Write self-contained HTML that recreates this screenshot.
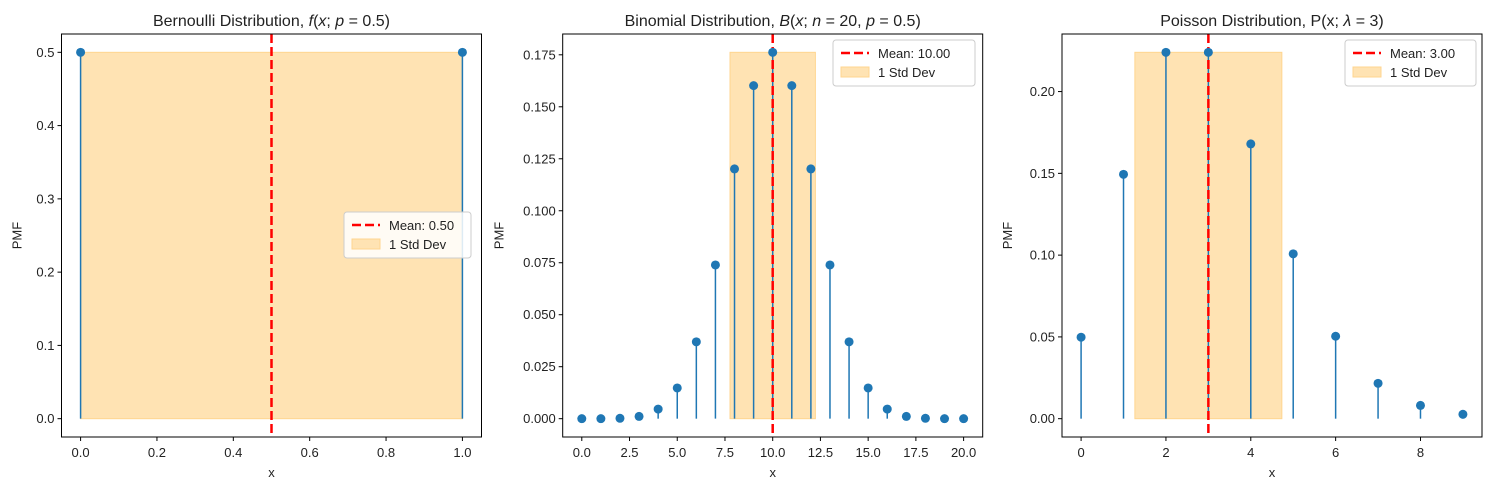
<!DOCTYPE html>
<html><head><meta charset="utf-8"><style>
body{margin:0;background:#fff;}
svg text{font-family:"Liberation Sans","DejaVu Sans",sans-serif;fill:#222;}
</style></head><body>
<svg id="fig" width="1489" height="490" viewBox="0 0 1489 490" xmlns="http://www.w3.org/2000/svg"></svg>
<script>
const bernX=[0,1];
const bernY=[0.5,0.5];
const binomX=[0,1,2,3,4,5,6,7,8,9,10,11,12,13,14,15,16,17,18,19,20];
const binomY=[0.000001,0.000019,0.000181,0.001087,0.004621,0.014786,0.036964,0.073929,0.120134,0.160179,0.176197,0.160179,0.120134,0.073929,0.036964,0.014786,0.004621,0.001087,0.000181,0.000019,0.000001];
const poisX=[0,1,2,3,4,5,6,7,8,9];
const poisY=[0.0498,0.1494,0.2240,0.2240,0.1680,0.1008,0.0504,0.0216,0.0081,0.0027];
const means=[0.5,10,3];
const stds=[0.5,2.236,1.732];
const bernXTicks=["0.0","0.2","0.4","0.6","0.8","1.0"];
const bernYTicks=["0.0","0.1","0.2","0.3","0.4","0.5"];
const binomXTicks=["0.0","2.5","5.0","7.5","10.0","12.5","15.0","17.5","20.0"];
const binomYTicks=["0.000","0.025","0.050","0.075","0.100","0.125","0.150","0.175"];
const poisXTicks=["0","2","4","6","8"];
const poisYTicks=["0.00","0.05","0.10","0.15","0.20"];

const NS="http://www.w3.org/2000/svg";
const svg=document.getElementById('fig');
function mk(tag,attrs,parent){const e=document.createElementNS(NS,tag);for(const k in attrs)e.setAttribute(k,attrs[k]);(parent||svg).appendChild(e);return e;}

const panels=[
 {left:61.5,title:'Bernoulli Distribution, <tspan font-style="italic">f</tspan>(<tspan font-style="italic">x</tspan>; <tspan font-style="italic">p</tspan> = 0.5)',xs:bernX,ys:bernY,xt:bernXTicks,yt:bernYTicks,name:'bernoulli',legend:{x:344,y:212}},
 {left:562.7,title:'Binomial Distribution, <tspan font-style="italic">B</tspan>(<tspan font-style="italic">x</tspan>; <tspan font-style="italic">n</tspan> = 20, <tspan font-style="italic">p</tspan> = 0.5)',xs:binomX,ys:binomY,xt:binomXTicks,yt:binomYTicks,name:'binomial',legend:{x:833,y:40}},
 {left:1062,title:'Poisson Distribution, P(x; <tspan font-style="italic">λ</tspan> = 3)',xs:poisX,ys:poisY,xt:poisXTicks,yt:poisYTicks,name:'poisson',legend:{x:1345,y:40}}
];
const axTop=34,axBottom=437,W=420;
panels.forEach((p,i)=>{
 const g=mk('g',{});
 
 
 const xmin=Math.min(...p.xs),xmax=Math.max(...p.xs);
 const m=Math.max(...p.ys);
 const ylo=0,yhi=m;
 const xr=xmax-xmin, yr=yhi-ylo;
 const x0=xmin-0.05*xr,x1=xmax+0.05*xr,y0=ylo-0.05*yr,y1=yhi+0.05*yr;
 const X=v=>p.left+(v-x0)/(x1-x0)*W;
 const Y=v=>axBottom-(v-y0)/(y1-y0)*(axBottom-axTop);
 const mu=means[i],sd=stds[i];
 const bl=Math.max(mu-sd,xmin), br=Math.min(mu+sd,xmax);
 const band=mk('rect',{x:X(bl),y:Y(m),width:X(br)-X(bl),height:Y(0)-Y(m),fill:'#ffe3b3',stroke:'#ffd58f','stroke-width':1},g);
 
 
 p.xs.forEach((xv,j)=>{
  const s=mk('line',{x1:X(xv),x2:X(xv),y1:Y(0),y2:Y(p.ys[j]),stroke:'#1f77b4','stroke-width':1.5},g);
  
  
 });
 const ml=mk('line',{x1:X(mu),x2:X(mu),y1:axTop,y2:axBottom,stroke:'#ff0000','stroke-width':2.5,'stroke-dasharray':'9 4'},g);
 
 
 p.xs.forEach((xv,j)=>{
  const c=mk('circle',{cx:X(xv),cy:Y(p.ys[j]),r:4.5,fill:'#1f77b4'},g);
  
  
 });
 const fr=mk('rect',{x:p.left,y:axTop,width:W,height:axBottom-axTop,fill:'none',stroke:'#000','stroke-width':1},g);
 
 
 p.xt.forEach(t=>{const v=parseFloat(t),xx=X(v);
  mk('line',{x1:xx,x2:xx,y1:axBottom,y2:axBottom+4,stroke:'#000'},g);
  const tx=mk('text',{x:xx,y:axBottom+20,'text-anchor':'middle','font-size':13},g);tx.textContent=t;
  
  
 });
 p.yt.forEach(t=>{const v=parseFloat(t),yy=Y(v);
  mk('line',{x1:p.left-4,x2:p.left,y1:yy,y2:yy,stroke:'#000'},g);
  const tx=mk('text',{x:p.left-7,y:yy+4.5,'text-anchor':'end','font-size':13},g);tx.textContent=t;
  
  
 });
 const xl=mk('text',{x:p.left+W/2,y:477,'text-anchor':'middle','font-size':13},g);xl.textContent='x';
 
 
 const yoff=i==0?40:(i==1?59:50);
 const cy=(axTop+axBottom)/2;
 const yl=mk('text',{x:p.left-yoff,y:cy,'text-anchor':'middle','font-size':13,transform:'rotate(-90 '+(p.left-yoff)+' '+cy+')'},g);yl.textContent='PMF';
 
 
 const ti=mk('text',{x:p.left+W/2,y:26,'text-anchor':'middle','font-size':16},g);ti.innerHTML=p.title;
 
 
 const L=p.legend, lw=i==1?142:(i==0?127:131);
 const lg=mk('g',{},g);
 
 
 mk('rect',{x:L.x,y:L.y,width:lw,height:46,rx:3,fill:'#fff','fill-opacity':0.85,stroke:'#ccc'},lg);
 mk('line',{x1:L.x+8,x2:L.x+36,y1:L.y+13,y2:L.y+13,stroke:'#f00','stroke-width':2.5,'stroke-dasharray':'9 4'},lg);
 const t1=mk('text',{x:L.x+45,y:L.y+18,'font-size':13},lg);t1.textContent='Mean: '+(i==1?'10.00':means[i].toFixed(2));
 
 
 mk('rect',{x:L.x+8,y:L.y+27,width:28,height:10,fill:'#ffe3b3',stroke:'#ffd58f'},lg);
 const t2=mk('text',{x:L.x+45,y:L.y+37,'font-size':13},lg);t2.textContent='1 Std Dev';
 
 
});
</script>
</body></html>
